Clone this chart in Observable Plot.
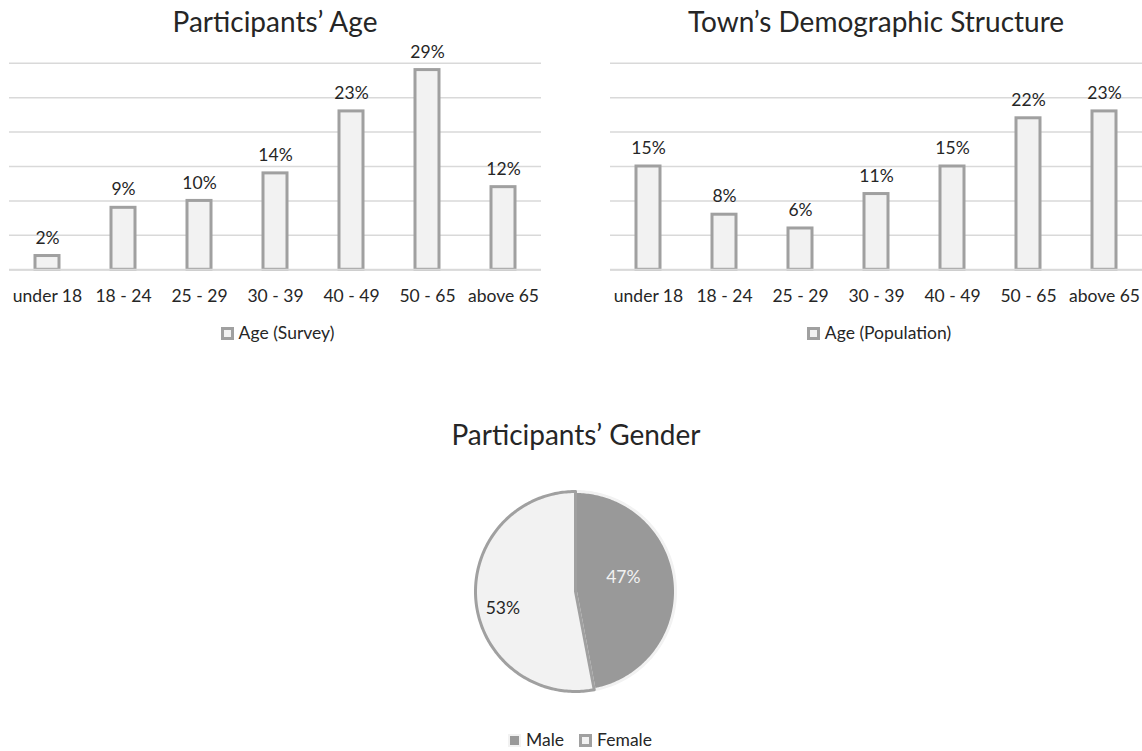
<!DOCTYPE html>
<html>
<head>
<meta charset="utf-8">
<script src="https://cdn.jsdelivr.net/npm/d3@7"></script>
<script src="https://cdn.jsdelivr.net/npm/@observablehq/plot@0.6"></script>
<style>
html, body { margin: 0; padding: 0; background: #fff; }
#root { position: relative; width: 1142px; height: 751px; overflow: hidden; font-family: Lato, sans-serif; color: #262626; }
.title { position: absolute; font-size: 28px; line-height: 28px; text-align: center; white-space: nowrap; color: #262626; }
.legend { position: absolute; height: 18px; font-size: 17.5px; line-height: 18px; display: flex; justify-content: center; align-items: center; white-space: nowrap; color: #262626; }
.sw { display: inline-block; box-sizing: border-box; width: 13px; height: 13px; border: 3px solid #a0a0a0; background: #f2f2f2; margin-right: 5px; }
.sw.male { width: 9px; height: 9px; border: none; background: #999; box-shadow: 0 0 0 2px #f2f2f2; margin: 0 7px 0 2px; }
.gap { display: inline-block; width: 15px; }
</style>
</head>
<body>
<div id="root"></div>
<script>
// ---- data ----
const ageCategories = ["under 18", "18 - 24", "25 - 29", "30 - 39", "40 - 49", "50 - 65", "above 65"];
const surveyAge = [2, 9, 10, 14, 23, 29, 12];
const populationAge = [15, 8, 6, 11, 15, 22, 23];
const genderCategories = ["Male", "Female"];
const genderValues = [47, 53];
const gridTicks = [0, 5, 10, 15, 20, 25, 30];

const root = document.getElementById("root");

function addDiv(cls, css, html) {
  const d = document.createElement("div");
  d.className = cls;
  Object.assign(d.style, css);
  d.innerHTML = html;
  root.appendChild(d);
  return d;
}

const textStyle = { fontFamily: "Lato, sans-serif", fontSize: "17.5px", color: "#262626", background: "transparent", overflow: "visible" };

function barChart(values, left, width, mLeft, mRight) {
  const data = ageCategories.map((c, i) => ({ category: c, value: values[i] }));
  const svg = Plot.plot({
    width, height: 310,
    marginTop: 62.7, marginBottom: 40.7, marginLeft: mLeft, marginRight: mRight,
    x: { domain: ageCategories, paddingInner: 0.684, paddingOuter: 0.342, label: null, tickSize: 0, tickPadding: 20 },
    y: { domain: [0, 30], axis: null },
    style: textStyle,
    marks: [
      Plot.ruleY(gridTicks, { stroke: "#d9d9d9", strokeWidth: 1.5 }),
      Plot.barY(data, { x: "category", y: "value", fill: "#f2f2f2", stroke: "#a0a0a0", strokeWidth: 3 }),
      Plot.ruleY([0], { stroke: "#d9d9d9", strokeWidth: 2 }),
      Plot.text(data, { x: "category", y: "value", text: d => d.value + "%", dy: -18, fill: "#262626" })
    ]
  });
  svg.style.position = "absolute";
  svg.style.left = left + "px";
  svg.style.top = "0px";
  root.appendChild(svg);
}

barChart(surveyAge, 0, 550, 9, 9);
barChart(populationAge, 600, 542, 10, 0);

addDiv("title", { left: "0px", width: "550px", top: "7px" }, "Participants’ Age");
addDiv("title", { left: "600px", width: "552px", top: "7px" }, "Town’s Demographic Structure");
addDiv("legend", { left: "0px", width: "555px", top: "324px" }, '<span class="sw"></span>Age (Survey)');
addDiv("legend", { left: "604px", width: "550px", top: "324px" }, '<span class="sw"></span>Age (Population)');

// ---- pie ----
const arcs = d3.pie().sort(null).value(d => d)(genderValues);
const slicePts = arcs.map((a, i) => {
  const pts = [{ slice: genderCategories[i], x: 0, y: 0 }];
  const n = 180;
  for (let k = 0; k <= n; k++) {
    const t = a.startAngle + (a.endAngle - a.startAngle) * k / n;
    pts.push({ slice: genderCategories[i], x: Math.sin(t), y: Math.cos(t) });
  }
  pts.push({ slice: genderCategories[i], x: 0, y: 0 });
  return pts;
});
const labels = arcs.map((a, i) => {
  const mid = (a.startAngle + a.endAngle) / 2;
  const r = i === 0 ? 0.48 : 0.73;
  return { slice: genderCategories[i], x: r * Math.sin(mid), y: r * Math.cos(mid), text: genderValues[i] + "%" };
});

const pieSvg = Plot.plot({
  width: 240, height: 240, margin: 0,
  x: { domain: [-1.2, 1.2], axis: null },
  y: { domain: [-1.2, 1.2], axis: null },
  style: textStyle,
  marks: [
    Plot.line(slicePts[0], { x: "x", y: "y", fill: "#999999", stroke: "#f2f2f2", strokeWidth: 3, curve: "linear" }),
    Plot.line(slicePts[1], { x: "x", y: "y", fill: "#f2f2f2", stroke: "#a0a0a0", strokeWidth: 3, curve: "linear" }),
    Plot.text([labels[0]], { x: "x", y: "y", text: "text", fill: "#f2f2f2", dy: -9.5 }),
    Plot.text([labels[1]], { x: "x", y: "y", text: "text", fill: "#262626", dy: 10 })
  ]
});
pieSvg.style.position = "absolute";
pieSvg.style.left = "455px";
pieSvg.style.top = "471px";
root.appendChild(pieSvg);

addDiv("title", { left: "426px", width: "300px", top: "420px" }, "Participants’ Gender");
addDiv("legend", { left: "430px", width: "300px", top: "731px" },
  '<span class="sw male"></span>' + genderCategories[0] + '<span class="gap"></span><span class="sw"></span>' + genderCategories[1]);
</script>
</body>
</html>
